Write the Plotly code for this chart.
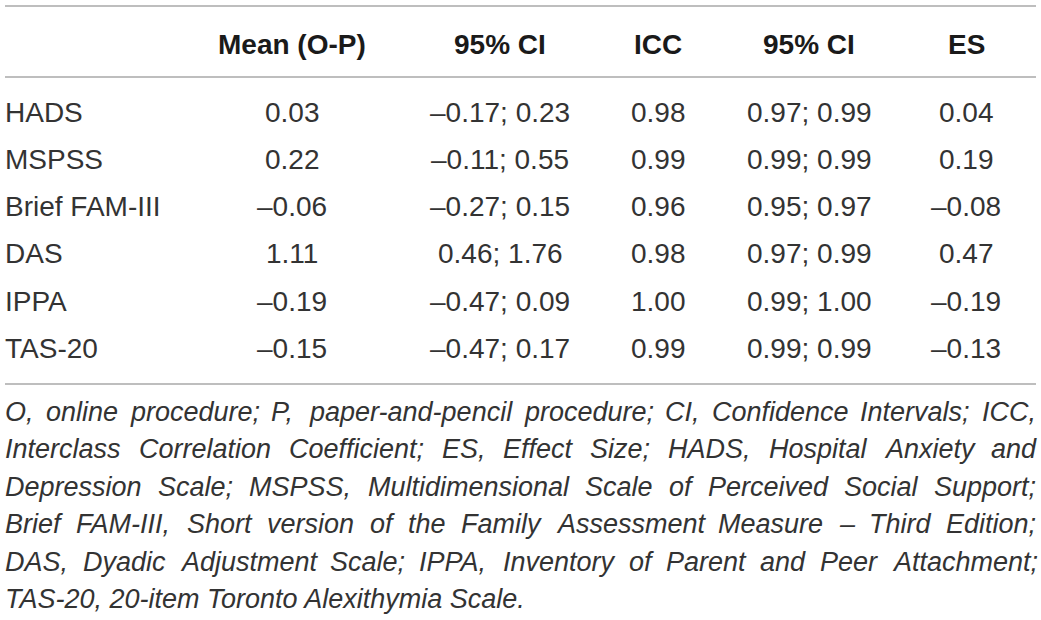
import plotly.graph_objects as go

# Table content (O = online, P = paper-and-pencil)
scales = ["HADS", "MSPSS", "Brief FAM-III", "DAS", "IPPA", "TAS-20"]
mean_diff = [0.03, 0.22, -0.06, 1.11, -0.19, -0.15]
mean_ci_low = [-0.17, -0.11, -0.27, 0.46, -0.47, -0.47]
mean_ci_high = [0.23, 0.55, 0.15, 1.76, 0.09, 0.17]
icc = [0.98, 0.99, 0.96, 0.98, 1.00, 0.99]
icc_ci_low = [0.97, 0.99, 0.95, 0.97, 0.99, 0.99]
icc_ci_high = [0.99, 0.99, 0.97, 0.99, 1.00, 0.99]
effect_size = [0.04, 0.19, -0.08, 0.47, -0.19, -0.13]
headers = ["", "Mean (O-P)", "95% CI", "ICC", "95% CI", "ES"]

footnote_lines = [
    "O, online procedure; P, paper-and-pencil procedure; CI, Confidence Intervals; ICC,",
    "Interclass Correlation Coefficient; ES, Effect Size; HADS, Hospital Anxiety and",
    "Depression Scale; MSPSS, Multidimensional Scale of Perceived Social Support;",
    "Brief FAM-III, Short version of the Family Assessment Measure \u2013 Third Edition;",
    "DAS, Dyadic Adjustment Scale; IPPA, Inventory of Parent and Peer Attachment;",
    "TAS-20, 20-item Toronto Alexithymia Scale.",
]

W, H = 1041, 620
FONT = "Liberation Sans, Arial, Helvetica, sans-serif"
TXT = "#333333"
RULE = "#a8a8a8"
LEFT, RIGHT = 5, 1036
col_x = [LEFT, 292, 500, 658, 809, 966]
header_y = 44
row_y0, row_pitch = 112, 47.3
foot_y0, foot_pitch = 412, 37.4
table_size = 28
foot_size = 27

# Arial / Liberation Sans advance widths (per 1000 em), used for justifying the note
AW = {" ": 278, ",": 278, ".": 278, ";": 278, "-": 333, "\u2013": 556, "(": 333, ")": 333}
AW.update({d: 556 for d in "0123456789"})
AW.update(dict(zip("ABCDEFGHIJKLMNOPQRSTUVWXYZ",
                   [667, 667, 722, 722, 667, 611, 778, 722, 278, 500, 667, 556, 833,
                    722, 778, 667, 778, 722, 667, 611, 722, 667, 944, 667, 667, 611])))
AW.update(dict(zip("abcdefghijklmnopqrstuvwxyz",
                   [556, 556, 500, 556, 556, 278, 556, 556, 222, 222, 500, 222, 833,
                    556, 556, 556, 556, 333, 500, 278, 556, 500, 722, 500, 500, 500])))


def word_width(w, size):
    return sum(AW.get(c, 556) for c in w) * size / 1000.0


def fmt(v):
    return f"{v:.2f}".replace("-", "\u2013")


columns = [
    scales,
    [fmt(v) for v in mean_diff],
    [f"{fmt(a)}; {fmt(b)}" for a, b in zip(mean_ci_low, mean_ci_high)],
    [fmt(v) for v in icc],
    [f"{fmt(a)}; {fmt(b)}" for a, b in zip(icc_ci_low, icc_ci_high)],
    [fmt(v) for v in effect_size],
]

annotations = []

# header
for j, h in enumerate(headers):
    if not h:
        continue
    annotations.append(dict(
        x=col_x[j], y=header_y, text=f"<b>{h}</b>", showarrow=False,
        xanchor="center", yanchor="middle",
        font=dict(family=FONT, size=table_size, color="#1a1a1a"),
    ))

# body
for j, col in enumerate(columns):
    for i, cell in enumerate(col):
        annotations.append(dict(
            x=col_x[j], y=row_y0 + i * row_pitch, text=cell, showarrow=False,
            xanchor="left" if j == 0 else "center", yanchor="middle",
            font=dict(family=FONT, size=table_size, color=TXT),
        ))

# footnote, justified word by word except the last line
for k, line in enumerate(footnote_lines):
    y = foot_y0 + k * foot_pitch
    words = line.split(" ")
    if k == len(footnote_lines) - 1:
        annotations.append(dict(
            x=LEFT, y=y, text=f"<i>{line}</i>", showarrow=False,
            xanchor="left", yanchor="middle",
            font=dict(family=FONT, size=foot_size, color=TXT),
        ))
        continue
    widths = [word_width(w, foot_size) for w in words]
    gap = (RIGHT - LEFT - sum(widths)) / (len(words) - 1)
    x = LEFT
    for w, ww in zip(words, widths):
        annotations.append(dict(
            x=x, y=y, text=f"<i>{w}</i>", showarrow=False,
            xanchor="left", yanchor="middle",
            font=dict(family=FONT, size=foot_size, color=TXT),
        ))
        x += ww + gap

shapes = [
    dict(type="line", x0=LEFT, x1=RIGHT, y0=yy, y1=yy, xref="x", yref="y",
         line=dict(color=RULE, width=1.6))
    for yy in (6, 77, 384)
]

for a in annotations:
    a.update(xref="x", yref="y", borderpad=0, borderwidth=0)

fig = go.Figure()
fig.update_layout(
    width=W, height=H,
    margin=dict(l=0, r=0, t=0, b=0),
    paper_bgcolor="white", plot_bgcolor="white",
    xaxis=dict(range=[0, W], visible=False, fixedrange=True),
    yaxis=dict(range=[H, 0], visible=False, fixedrange=True),
    annotations=annotations,
    shapes=shapes,
    showlegend=False,
)

# drop the default 8px body margin so the figure fills the window exactly
fig.write_html("out.html", config=dict(displayModeBar=False),
               post_script="document.body.style.margin='0px';document.body.style.overflow='hidden';")
